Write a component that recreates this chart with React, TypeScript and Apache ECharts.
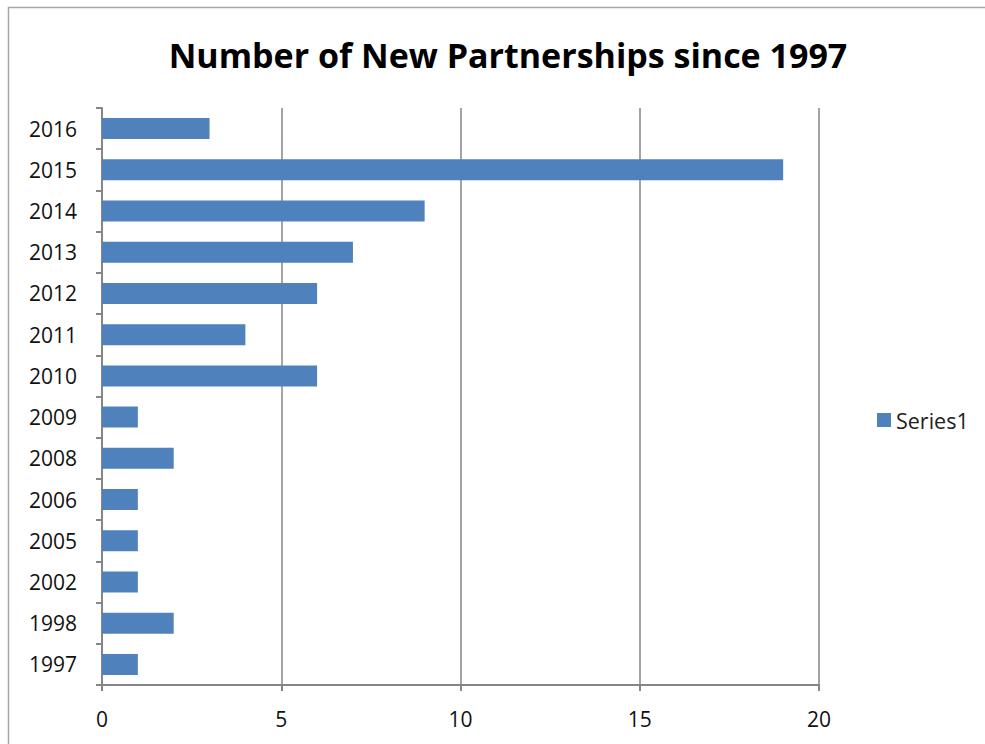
import React, { useEffect, useRef } from "react";
import * as echarts from "echarts";

const categories = ["1997", "1998", "2002", "2005", "2006", "2008", "2009", "2010", "2011", "2012", "2013", "2014", "2015", "2016"];
const values = [1, 2, 1, 1, 1, 2, 1, 6, 4, 6, 7, 9, 19, 3];
const seriesName = "Series1";
const titleText = "Number of New Partnerships since 1997";

export default function App() {
  const ref = useRef<HTMLDivElement>(null);
  useEffect(() => {
    const chart = echarts.init(ref.current!, null, { renderer: "svg" });
    const font = "'Open Sans', 'Noto Sans', sans-serif";
    chart.setOption({
      animation: false,
      backgroundColor: "#ffffff",
      textStyle: { fontFamily: font },
      title: {
        text: titleText,
        left: 503,
        textAlign: "center",
        top: 33,
        textStyle: { fontSize: 34, fontWeight: "bold", color: "#000", fontFamily: font },
      },
      legend: {
        data: [seriesName],
        left: 872,
        top: 404,
        icon: "rect",
        itemWidth: 14,
        itemHeight: 14,
        itemGap: 6,
        textStyle: { fontSize: 21.5, color: "#222", fontFamily: font },
      },
      graphic: [
        {
          type: "rect",
          shape: { x: 8.5, y: 7.5, width: 990, height: 760 },
          style: { fill: "none", stroke: "#a6a6a6", lineWidth: 1.5 },
          silent: true,
        },
      ],
      grid: { left: 102, right: 166, top: 108, bottom: 59, containLabel: false },
      xAxis: {
        type: "value",
        min: 0,
        max: 20,
        interval: 5,
        axisLine: { show: true, lineStyle: { color: "#868686", width: 2 } },
        axisTick: { show: true, length: 6, lineStyle: { color: "#868686", width: 2 } },
        splitLine: { show: true, lineStyle: { color: "#868686", width: 1.5 } },
        axisLabel: { margin: 23, fontSize: 21, color: "#111", fontFamily: font },
      },
      yAxis: {
        type: "category",
        data: categories,
        axisLine: { show: true, lineStyle: { color: "#868686", width: 2 } },
        axisTick: { show: true, length: 6, alignWithLabel: false, lineStyle: { color: "#868686", width: 2 } },
        axisLabel: { margin: 25, fontSize: 21, color: "#111", fontFamily: font },
      },
      series: [
        {
          name: seriesName,
          type: "bar",
          data: values,
          barWidth: 21,
          itemStyle: { color: "#4F81BD" },
        },
      ],
    });
    return () => chart.dispose();
  }, []);
  return <div ref={ref} style={{ width: 985, height: 744, position: "absolute", left: 0, top: 0 }} />;
}
